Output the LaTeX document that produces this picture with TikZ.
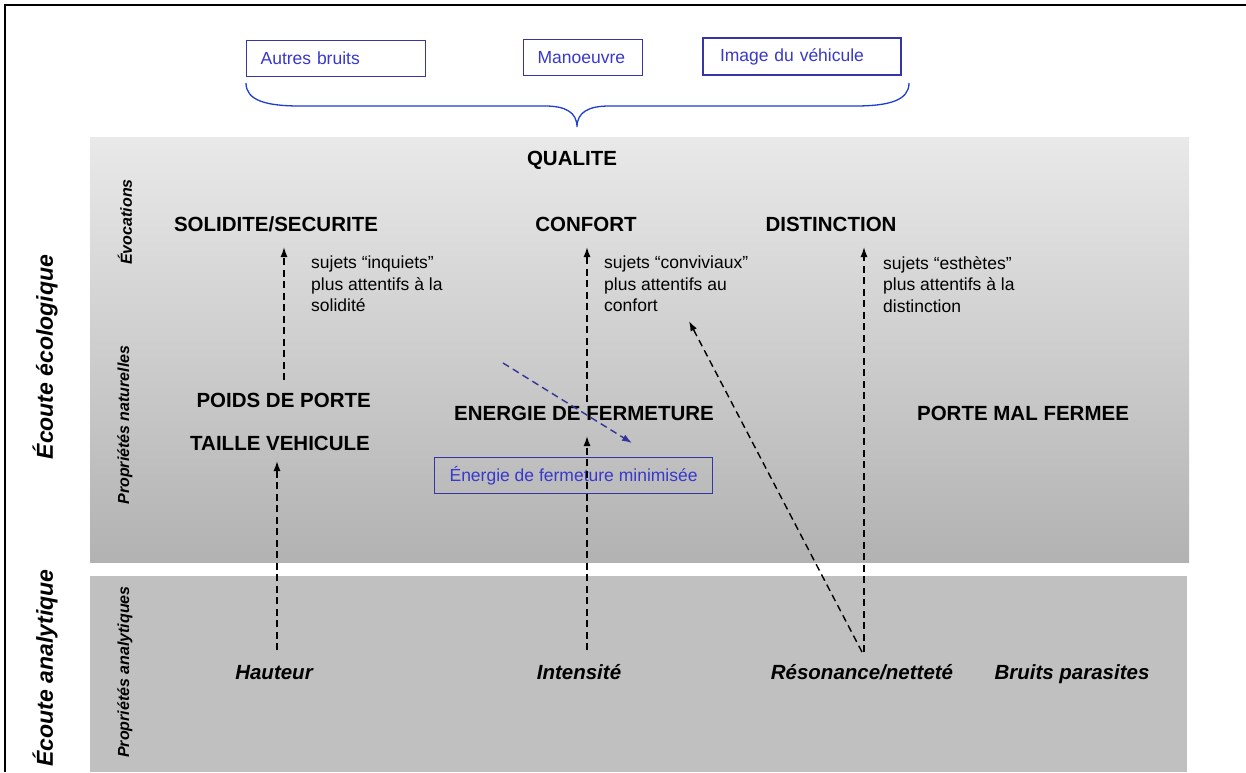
\documentclass[tikz,border=0pt]{standalone}
\usepackage{fontspec}
\setmainfont{Liberation Sans}
\usetikzlibrary{arrows.meta}
\definecolor{boxblue}{HTML}{3535A5}
\definecolor{txtblue}{HTML}{3838CC}
\definecolor{braceblue}{HTML}{1F3FD0}
\definecolor{arrblue}{HTML}{333399}
\definecolor{gTop}{HTML}{E9E9E9}
\definecolor{gBot}{HTML}{B2B2B2}
\definecolor{gLow}{HTML}{C0C0C0}
\begin{document}
\begin{tikzpicture}[x=1pt,y=-1pt,
  big/.style={font=\fontsize{20.5}{24}\selectfont\bfseries, inner sep=0pt, anchor=base},
  note/.style={font=\fontsize{17.5}{21.5}\selectfont, inner sep=0pt, anchor=north west, align=left},
  ana/.style={font=\fontsize{20.5}{24}\selectfont\bfseries\itshape, inner sep=0pt, anchor=base},
  side/.style={font=\fontsize{16}{20}\selectfont\bfseries\itshape, rotate=90, inner sep=0pt},
  ecoute/.style={font=\fontsize{23}{27}\selectfont\bfseries\itshape, rotate=90, inner sep=0pt},
  topbox/.style={draw=boxblue, line width=1.2pt, minimum height=36pt, text=txtblue,
    font=\fontsize{17.5}{21}\selectfont, inner ysep=0pt, anchor=north west, align=left},
  link/.style={dash pattern=on 7pt off 4.5pt, line width=1.4pt, -{Latex[length=10pt,width=7pt]}},
]
\useasboundingbox (0,0) rectangle (1246,772);
\fill[white] (0,0) rectangle (1246,772);
% frame
\draw[line width=2pt] (5,772) -- (5,5) -- (1246,5);
% bands
\shade[top color=gTop, bottom color=gBot] (90,137) rectangle (1189,562);
\fill[gLow] (90,576) rectangle (1187,772);

% top boxes
\node[topbox, text width=151pt, inner xsep=14pt] (autres) at (246,40) {Autres bruits};
\node[topbox, text width=91pt, inner xsep=14pt] (manoeuvre) at (523,39) {Manoeuvre};
\node[topbox, line width=2pt, text width=164pt, inner xsep=17pt, minimum height=37pt] (image) at (702,37) {Image du véhicule};
% brace
\draw[braceblue, line width=1.3pt] (246,83) .. controls (246,100) and (265,106) .. (300,106)
  -- (545,106) .. controls (565,106) and (577,112) .. (577,127)
  .. controls (577,112) and (589,106) .. (609,106)
  -- (855,106) .. controls (890,106) and (909,100) .. (909,83);

% side labels
\node[ecoute] (ecoeco) at (45,357) {Écoute écologique};
\node[ecoute] (ecoana) at (45,668) {Écoute analytique};
\node[side] (evoc) at (125,222) {Évocations};
\node[side] (propnat) at (125,425) {Propriétés naturelles};
\node[side] (propana) at (125,672) {Propriétés analytiques};

% main texts
\node[big] (qualite) at (572,165.5) {QUALITE};
\node[big] (solid) at (276,231) {SOLIDITE/SECURITE};
\node[big] (confort) at (586,231) {CONFORT};
\node[big] (distinct) at (831,231) {DISTINCTION};
\node[big, anchor=base east] (poids) at (371,407.5) {POIDS DE PORTE};
\node[big, anchor=base east] (taille) at (370,450.5) {TAILLE VEHICULE};
\node[big, anchor=base west] (energie) at (454,420.5) {ENERGIE DE FERMETURE};
\node[big] (malferm) at (1023,420.5) {PORTE MAL FERMEE};

\node[note] (n1) at (311,256) {sujets “inquiets”\\plus attentifs à la\\solidité};
\node[note] (n2) at (604,256) {sujets “conviviaux”\\plus attentifs au\\confort};
\node[note] (n3) at (883,256) {sujets “esthètes”\\plus attentifs à la\\distinction};

\node[draw=boxblue, line width=1.2pt, text=txtblue, font=\fontsize{17.5}{21}\selectfont,
  minimum width=278pt, minimum height=36pt, inner sep=0pt, anchor=north west] (enmin) at (434,457) {Énergie de fermeture minimisée\hspace{14pt}};

\node[ana] (hauteur) at (274,679.5) {Hauteur};
\node[ana] (intens) at (579,679.5) {Intensité};
\node[ana] (reson) at (862,679.5) {Résonance/netteté};
\node[ana] (bruits) at (1072,679.5) {Bruits parasites};

% connector ends
\coordinate (poidsT) at (284,380);
\coordinate (solidB) at (284,247);
\coordinate (hautT) at (277,650);
\coordinate (tailleB) at (277,461);
\coordinate (intT) at (587,650);
\coordinate (enerB) at (587,436);
\coordinate (enerT) at (587,402);
\coordinate (confB) at (587,247);
\coordinate (resT) at (864,652);
\coordinate (resT2) at (862,652);
\coordinate (distB) at (864,247);
\coordinate (convB) at (689,321);
\coordinate (blueS) at (503,363);
\coordinate (blueE) at (632,443);

\draw[link] (poidsT) -- (solidB);
\draw[link] (hautT) -- (tailleB);
\draw[link] (intT) -- (enerB);
\draw[link] (enerT) -- (confB);
\draw[link] (resT) -- (distB);
\draw[link] (resT2) -- (convB);
\draw[link, arrblue] (blueS) -- (blueE);
\end{tikzpicture}
\end{document}
